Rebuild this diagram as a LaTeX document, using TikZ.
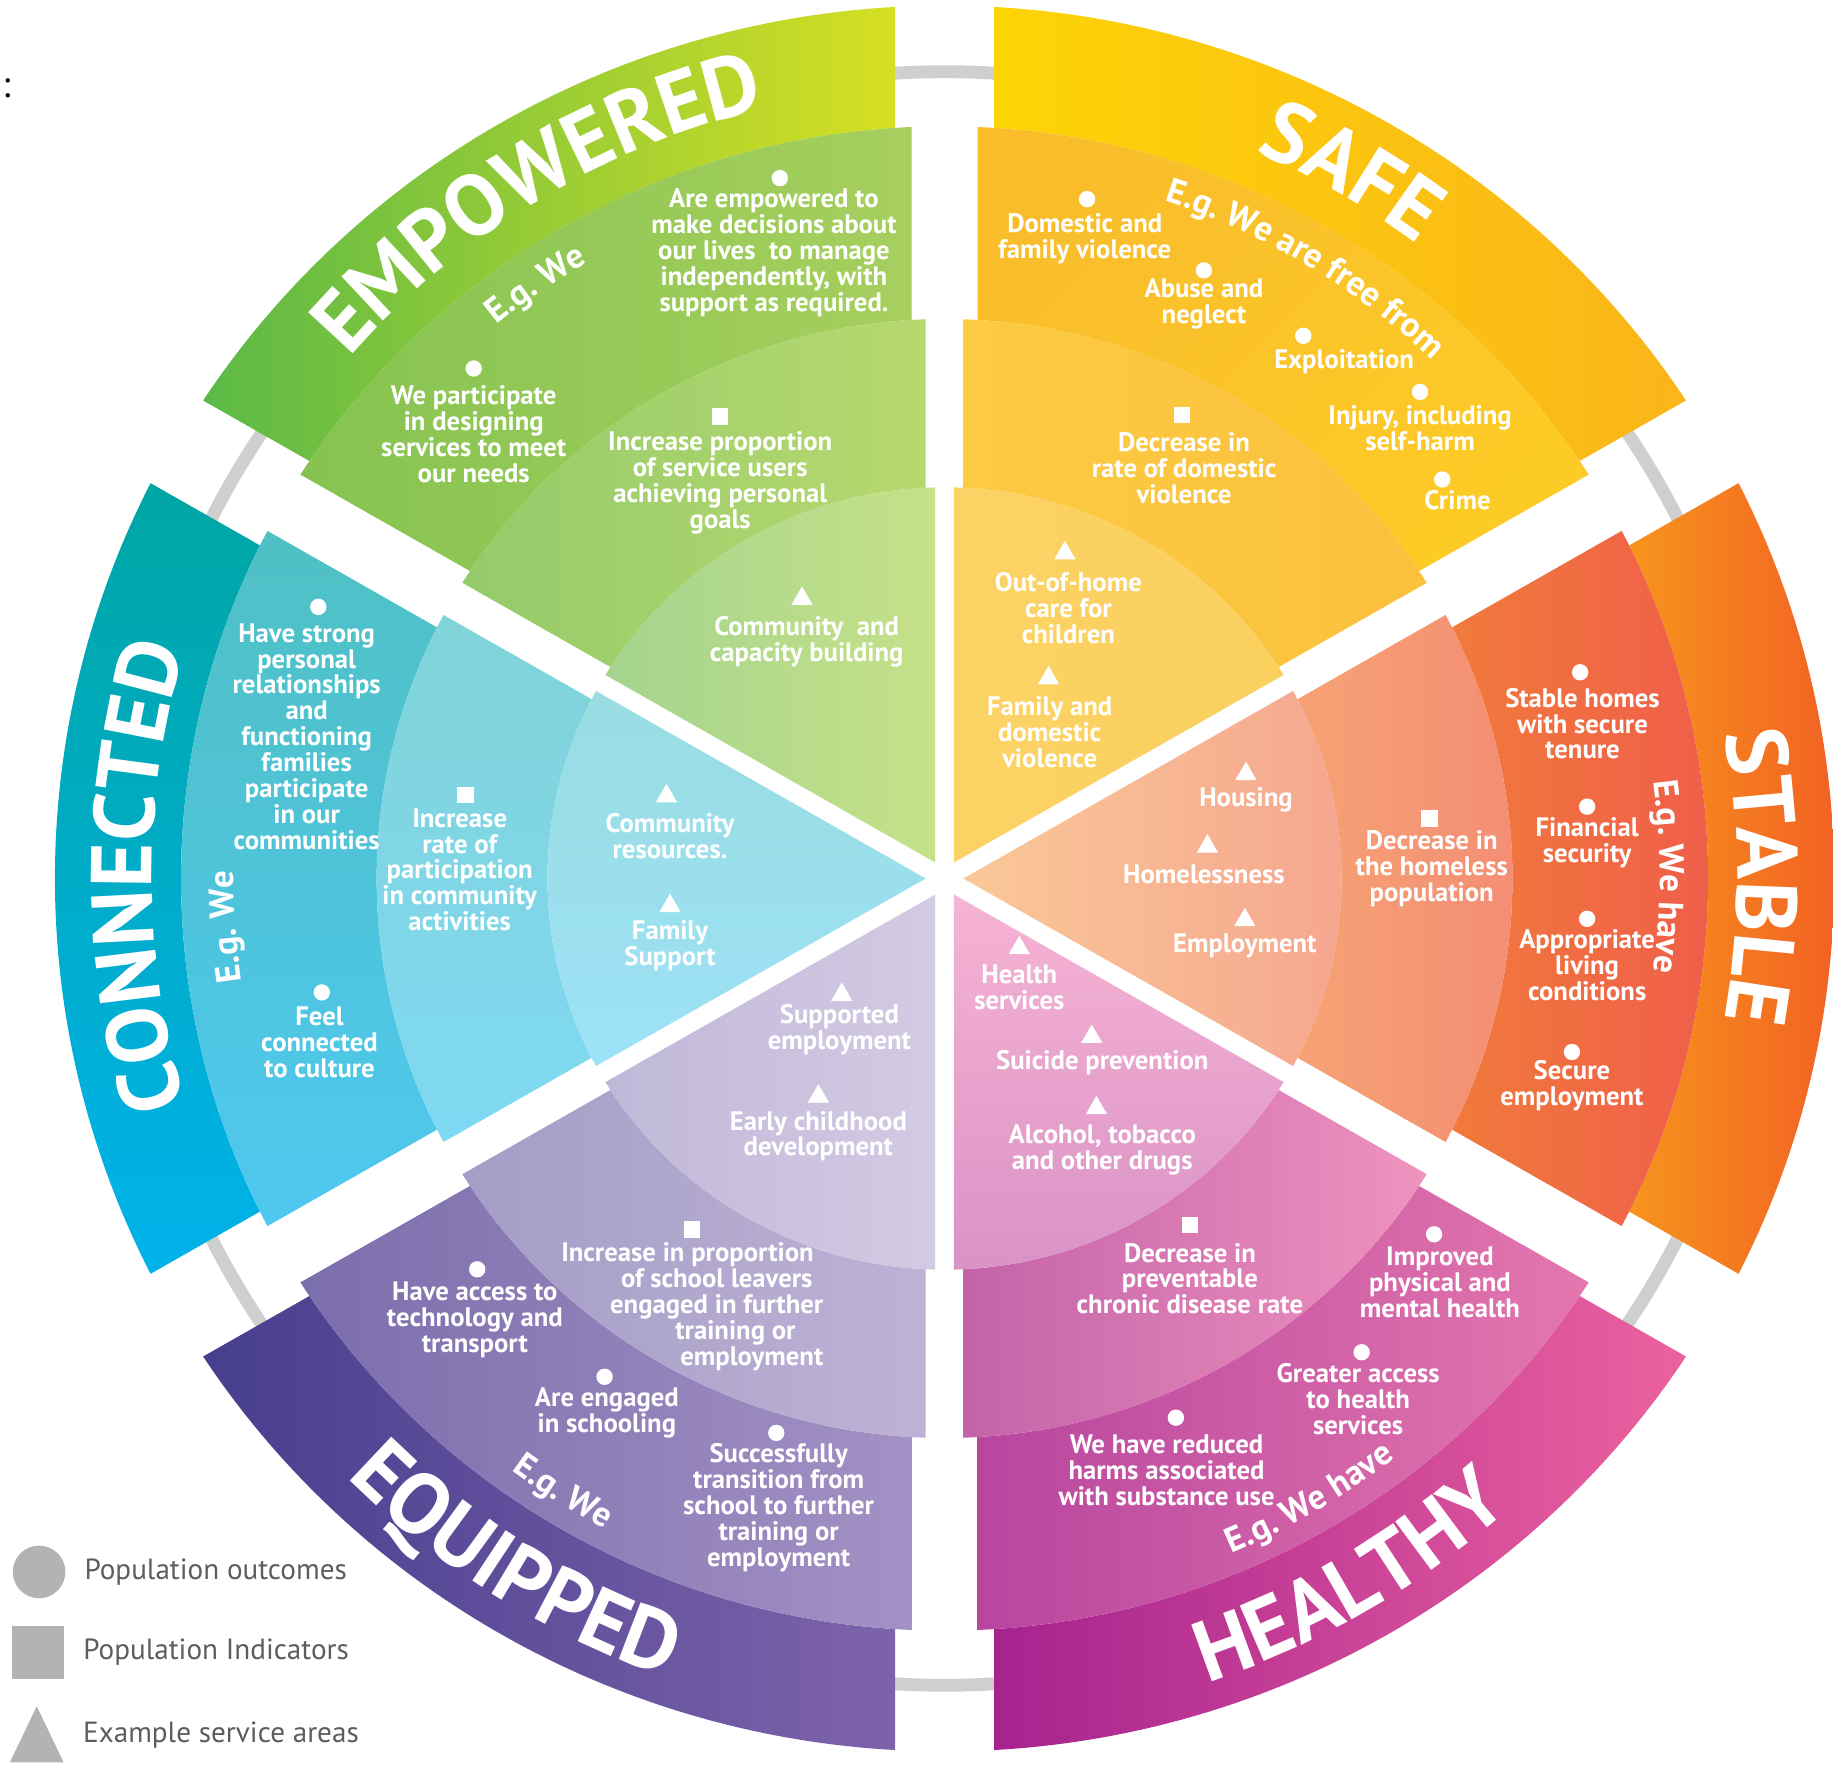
\documentclass[tikz,border=0pt]{standalone}
\usepackage{fontspec}
\setmainfont{PT Sans}
\usepackage{xcolor}
\usetikzlibrary{shapes.geometric,decorations.text,positioning}

\definecolor{ringgrey}{HTML}{CFCFCF}
\definecolor{keygrey}{HTML}{B3B3B3}
\definecolor{keytext}{HTML}{5D5D5D}
% empowered
\definecolor{empT1}{HTML}{5BB947}\definecolor{empT2}{HTML}{D7DF23}
\definecolor{empO1}{HTML}{85C350}\definecolor{empO2}{HTML}{A6CF5E}
\definecolor{empM1}{HTML}{94CB6A}\definecolor{empM2}{HTML}{B7D86F}
\definecolor{empI1}{HTML}{A3D48D}\definecolor{empI2}{HTML}{C6E188}
% safe
\definecolor{safT1}{HTML}{FDD406}\definecolor{safT2}{HTML}{FAB51A}
\definecolor{safO1}{HTML}{FDCB26}\definecolor{safO2}{HTML}{F9BD2C}
\definecolor{safM1}{HTML}{FCCB43}\definecolor{safM2}{HTML}{FBC03C}
\definecolor{safI1}{HTML}{FBD264}\definecolor{safI2}{HTML}{FAD15F}
% stable
\definecolor{stbT1}{HTML}{F7941D}\definecolor{stbT2}{HTML}{F15A24}
\definecolor{stbO1}{HTML}{F17A3C}\definecolor{stbO2}{HTML}{EF5B4B}
\definecolor{stbM1}{HTML}{F6A274}\definecolor{stbM2}{HTML}{F38C74}
\definecolor{stbI1}{HTML}{FAC898}\definecolor{stbI2}{HTML}{F5A58E}
% healthy
\definecolor{hltT1}{HTML}{A6238F}\definecolor{hltT2}{HTML}{EC629F}
\definecolor{hltO1}{HTML}{B8469F}\definecolor{hltO2}{HTML}{E477AE}
\definecolor{hltM1}{HTML}{C462A9}\definecolor{hltM2}{HTML}{EF93BF}
\definecolor{hltI1}{HTML}{F6B4D4}\definecolor{hltI2}{HTML}{D992C6}
% equipped
\definecolor{eqpT1}{HTML}{473E8E}\definecolor{eqpT2}{HTML}{7E63AB}
\definecolor{eqpO1}{HTML}{7B6EAC}\definecolor{eqpO2}{HTML}{A391C4}
\definecolor{eqpM1}{HTML}{A49DC6}\definecolor{eqpM2}{HTML}{BEB2D6}
\definecolor{eqpI1}{HTML}{C0B8D8}\definecolor{eqpI2}{HTML}{D3CAE3}
% connected
\definecolor{conT1}{HTML}{00A6A4}\definecolor{conT2}{HTML}{00B2EB}
\definecolor{conO1}{HTML}{4FC0C4}\definecolor{conO2}{HTML}{4EC8F0}
\definecolor{conM1}{HTML}{80D3D8}\definecolor{conM2}{HTML}{80D9F3}
\definecolor{conI1}{HTML}{99DCE2}\definecolor{conI2}{HTML}{9DE2F7}

\newcommand{\titlefont}{\color{white}\bfseries\fontsize{21}{21}\selectfont}
\newcommand{\egfont}{\color{white}\bfseries\fontsize{8.5}{8.5}\selectfont}
\newcommand{\lblfont}{\bfseries\fontsize{6.5}{6.3}\selectfont}
\newcommand{\keyfont}{\fontsize{7.1}{8}\selectfont}

% ring segment: from angle, to angle, inner r, outer r, half gap, style
\newcommand{\wheelband}[6]{%
  \pgfmathsetmacro{\wbG}{asin(#5/#4)}%
  \pgfmathsetmacro{\wbH}{asin(#5/#3)}%
  \pgfmathsetmacro{\wbA}{#1+\wbG}\pgfmathsetmacro{\wbB}{#2-\wbG}%
  \pgfmathsetmacro{\wbC}{#2-\wbH}\pgfmathsetmacro{\wbD}{#1+\wbH}%
  \path[#6] (\wbD:#3) -- (\wbA:#4) arc[start angle=\wbA, end angle=\wbB, radius=#4]
    -- (\wbC:#3) arc[start angle=\wbC, end angle=\wbD, radius=#3] -- cycle;
}
% inner slice: from angle, to angle, r, half gap, style
\newcommand{\wheelpie}[5]{%
  \pgfmathsetmacro{\wbG}{asin(#4/#3)}%
  \pgfmathsetmacro{\wbA}{#1+\wbG}\pgfmathsetmacro{\wbB}{#2-\wbG}%
  \pgfmathsetmacro{\wbM}{(#1+#2)/2}\pgfmathsetmacro{\wbR}{2*#4}%
  \path[#5] (\wbM:\wbR) -- (\wbA:#3) arc[start angle=\wbA, end angle=\wbB, radius=#3] -- cycle;
}

\begin{document}
\begin{tikzpicture}[
    dot/.style={circle, fill=white, inner sep=0pt, minimum size=0.14cm},
    sq/.style={rectangle, fill=white, inner sep=0pt, minimum size=0.14cm},
    tri/.style={regular polygon, regular polygon sides=3, fill=white, inner sep=0pt, minimum size=0.21cm},
    lbl/.style={text=white, align=center, font=\lblfont, inner sep=0pt},
    keytxt/.style={text=keytext, font=\keyfont, inner sep=0pt},
    curved/.style={decorate, decoration={text along path, text align={align=center}, text={#1}}}
  ]
  \fill[white] (-8.08,-7.63) rectangle (7.60,7.50);
  \useasboundingbox (-8.08,-7.63) rectangle (7.60,7.50);

  \begin{scope}[shift={(0,-0.015)}, xscale=1.008, yscale=0.993]
  \draw[ringgrey, line width=1.1mm] (0,0) circle[radius=6.95];

  % safe
  \wheelband{30}{90}{6.48}{7.52}{0.42}{left color=safT1, right color=safT2}
  \wheelband{30}{90}{4.82}{6.48}{0.28}{left color=safO2, right color=safO1, shading angle=45}
  \wheelband{30}{90}{3.37}{4.82}{0.16}{left color=safM1, right color=safM2}
  \wheelpie{30}{90}{3.37}{0.08}{left color=safI1, right color=safI2}
  % empowered
  \wheelband{90}{150}{6.48}{7.52}{0.42}{left color=empT1, right color=empT2}
  \wheelband{90}{150}{4.82}{6.48}{0.28}{left color=empO1, right color=empO2}
  \wheelband{90}{150}{3.37}{4.82}{0.16}{left color=empM1, right color=empM2}
  \wheelpie{90}{150}{3.37}{0.08}{left color=empI1, right color=empI2}
  % connected
  \wheelband{150}{210}{6.48}{7.55}{0.42}{top color=conT1, bottom color=conT2}
  \wheelband{150}{210}{4.82}{6.48}{0.28}{top color=conO1, bottom color=conO2}
  \wheelband{150}{210}{3.37}{4.82}{0.16}{top color=conM1, bottom color=conM2}
  \wheelpie{150}{210}{3.37}{0.08}{top color=conI1, bottom color=conI2}
  % equipped
  \wheelband{210}{270}{6.48}{7.52}{0.42}{left color=eqpT1, right color=eqpT2}
  \wheelband{210}{270}{4.82}{6.48}{0.28}{left color=eqpO1, right color=eqpO2}
  \wheelband{210}{270}{3.37}{4.82}{0.16}{left color=eqpM1, right color=eqpM2}
  \wheelpie{210}{270}{3.37}{0.08}{left color=eqpI1, right color=eqpI2}
  % healthy
  \wheelband{270}{330}{6.48}{7.52}{0.42}{left color=hltT1, right color=hltT2}
  \wheelband{270}{330}{4.82}{6.48}{0.28}{left color=hltO1, right color=hltO2}
  \wheelband{270}{330}{3.37}{4.82}{0.16}{left color=hltM1, right color=hltM2}
  \wheelpie{270}{330}{3.37}{0.08}{top color=hltI1, bottom color=hltI2}
  % stable
  \wheelband{-30}{30}{6.48}{7.55}{0.42}{left color=stbT1, right color=stbT2}
  \wheelband{-30}{30}{4.82}{6.48}{0.28}{left color=stbO1, right color=stbO2}
  \wheelband{-30}{30}{3.37}{4.82}{0.16}{left color=stbM1, right color=stbM2}
  \wheelpie{-30}{30}{3.37}{0.08}{left color=stbI1, right color=stbI2}
  \end{scope}

  % titles along the rim
  \path[curved={|\titlefont|EMPOWERED}] (150:6.75) arc[start angle=150, end angle=92, radius=6.75];
  \path[curved={|\titlefont|SAFE}] (88:6.75) arc[start angle=88, end angle=32, radius=6.75];
  \path[curved={|\titlefont|STABLE}] (28:6.78) arc[start angle=28, end angle=-28, radius=6.78];
  \path[curved={|\titlefont|CONNECTED}] (208:6.78) arc[start angle=208, end angle=152, radius=6.78];
  \path[curved={|\titlefont|HEALTHY}] (-88:7.25) arc[start angle=-88, end angle=-32, radius=7.25];
  \path[curved={|\titlefont|EQUIPPED}] (-150:7.25) arc[start angle=-150, end angle=-94, radius=7.25];

  \path[curved={|\egfont|E.g. We}] (150:6.08) arc[start angle=150, end angle=99.2, radius=6.08];
  \path[curved={|\egfont|E.g. We are free from}] (88:6.08) arc[start angle=88, end angle=30.6, radius=6.08];
  \path[curved={|\egfont|E.g. We have}] (28:6.12) arc[start angle=28, end angle=-28, radius=6.12];
  \path[curved={|\egfont|E.g. We}] (212:6.08) arc[start angle=212, end angle=156, radius=6.08];
  \path[curved={|\egfont|E.g. We have}] (-88:6.29) arc[start angle=-88, end angle=-31.2, radius=6.29];
  \path[curved={|\egfont|E.g. We}] (-148:6.29) arc[start angle=-148, end angle=-95.6, radius=6.29];

  \begin{scope}[x=0.01cm, y=-0.01cm, shift={(-808,-750)}]
    \node[font=\fontsize{9}{9}\selectfont] (colon) at (5,75) {:};

    % empowered
    \node[dot] (emp-o1) at (667,152) {};
    \node[lbl] (emp-o1-t) at (662,216) {Are empowered to\\make decisions about\\our lives\ \ to manage\\independently, with\\support as required.};
    \node[dot] (emp-o2) at (405,315) {};
    \node[lbl] (emp-o2-t) at (405,371) {We participate\\in designing\\services to meet\\our needs};
    \node[sq] (emp-m1) at (616,356) {};
    \node[lbl] (emp-m1-t) at (616,413) {Increase proportion\\of service users\\achieving personal\\goals};
    \node[tri] (emp-i1) at (686,512) {};
    \node[lbl] (emp-i1-t) at (690,549) {Community\ \ and\\capacity building};

    % safe
    \node[dot] (saf-o1) at (930,170) {};
    \node[lbl] (saf-o1-t) at (928,204) {Domestic and\\family violence};
    \node[dot] (saf-o2) at (1030,231) {};
    \node[lbl] (saf-o2-t) at (1030,260) {Abuse and\\neglect};
    \node[dot] (saf-o3) at (1115,287) {};
    \node[lbl] (saf-o3-t) at (1150,309) {Exploitation};
    \node[dot] (saf-o4) at (1215,335) {};
    \node[lbl] (saf-o4-t) at (1215,366) {Injury, including\\self-harm};
    \node[dot] (saf-o5) at (1234,410) {};
    \node[lbl] (saf-o5-t) at (1247,428) {Crime};
    \node[sq] (saf-m1) at (1011,355) {};
    \node[lbl] (saf-m1-t) at (1013,400) {Decrease in\\rate of domestic\\violence};
    \node[tri] (saf-i1) at (911,473) {};
    \node[lbl] (saf-i1-t) at (914,520) {Out-of-home\\care for\\children};
    \node[tri] (saf-i2) at (897,580) {};
    \node[lbl] (saf-i2-t) at (898,626) {Family and\\domestic\\violence};

    % stable
    \node[dot] (stb-o1) at (1352,575) {};
    \node[lbl] (stb-o1-t) at (1354,619) {Stable homes\\with secure\\tenure};
    \node[dot] (stb-o2) at (1358,690) {};
    \node[lbl] (stb-o2-t) at (1358,721) {Financial\\security};
    \node[dot] (stb-o3) at (1358,786) {};
    \node[lbl] (stb-o3-t) at (1358,826) {Appropriate\\living\\conditions};
    \node[dot] (stb-o4) at (1345,900) {};
    \node[lbl] (stb-o4-t) at (1345,929) {Secure\\employment};
    \node[sq] (stb-m1) at (1223,700) {};
    \node[lbl] (stb-m1-t) at (1225,743) {Decrease in\\the homeless\\population};
    \node[tri] (stb-i1) at (1066,662) {};
    \node[lbl] (stb-i1-t) at (1066,684) {Housing};
    \node[tri] (stb-i2) at (1033,724) {};
    \node[lbl] (stb-i2-t) at (1030,748) {Homelessness};
    \node[tri] (stb-i3) at (1065,787) {};
    \node[lbl] (stb-i3-t) at (1065,809) {Employment};

    % healthy
    \node[tri] (hlt-i1) at (872,811) {};
    \node[lbl] (hlt-i1-t) at (872,845) {Health\\services};
    \node[tri] (hlt-i2) at (934,887) {};
    \node[lbl] (hlt-i2-t) at (943,909) {Suicide prevention};
    \node[tri] (hlt-i3) at (938,948) {};
    \node[lbl] (hlt-i3-t) at (943,984) {Alcohol, tobacco\\and other drugs};
    \node[sq] (hlt-m1) at (1018,1048) {};
    \node[lbl] (hlt-m1-t) at (1018,1094) {Decrease in\\preventable\\chronic disease rate};
    \node[dot] (hlt-o1) at (1227,1056) {};
    \node[lbl] (hlt-o1-t) at (1232,1097) {Improved\\physical and\\mental health};
    \node[dot] (hlt-o2) at (1165,1157) {};
    \node[lbl] (hlt-o2-t) at (1162,1197) {Greater access\\to health\\services};
    \node[dot] (hlt-o3) at (1006,1213) {};
    \node[lbl] (hlt-o3-t) at (998,1258) {We have reduced\\harms associated\\with substance use};

    % equipped
    \node[tri] (eqp-i1) at (720,851) {};
    \node[lbl] (eqp-i1-t) at (718,881) {Supported\\employment};
    \node[tri] (eqp-i2) at (700,938) {};
    \node[lbl] (eqp-i2-t) at (700,972) {Early childhood\\development};
    \node[sq] (eqp-m1) at (592,1052) {};
    \node[lbl] (eqp-m1-t) at (613,1118) {Increase in proportion\hspace*{0.5cm}\\of school leavers\hspace*{0.26cm}\\engaged in further\\\hspace*{0.32cm}training or\\\hspace*{0.6cm}employment};
    \node[dot] (eqp-o1) at (408,1086) {};
    \node[lbl] (eqp-o1-t) at (406,1129) {Have access to\\technology and\\transport};
    \node[dot] (eqp-o2) at (517,1178) {};
    \node[lbl] (eqp-o2-t) at (519,1209) {Are engaged\\in schooling};
    \node[dot] (eqp-o3) at (664,1226) {};
    \node[lbl] (eqp-o3-t) at (666,1290) {Successfully\\transition from\\school to further\\training or\\employment};

    % connected
    \node[dot] (con-o1) at (272,519) {};
    \node[lbl] (con-o1-t) at (262,630) {Have strong\\personal\\relationships\\and\\functioning\\families\\participate\\in our\\communities};
    \node[dot] (con-o2) at (275,849) {};
    \node[lbl] (con-o2-t) at (273,892) {Feel\\connected\\to culture};
    \node[sq] (con-m1) at (398,680) {};
    \node[lbl] (con-m1-t) at (393,744) {Increase\\rate of\\participation\\in community\\activities};
    \node[tri] (con-i1) at (570,681) {};
    \node[lbl] (con-i1-t) at (573,715) {Community\\resources.};
    \node[tri] (con-i2) at (573,775) {};
    \node[lbl] (con-i2-t) at (573,809) {Family\\Support};

    % key
    \node[circle, fill=keygrey, inner sep=0pt, minimum size=0.45cm] (key-dot) at (33,1345) {};
    \node[keytxt, right=0.15cm of key-dot] (key-dot-t) {Population outcomes};
    \node[rectangle, fill=keygrey, inner sep=0pt, minimum size=0.45cm] (key-sq) at (32,1414) {};
    \node[keytxt, right=0.15cm of key-sq] (key-sq-t) {Population Indicators};
    \fill[keygrey] (8,1508) -- (31,1460) -- (54,1508) -- cycle;
    \node[keytxt, anchor=west] (key-tri-t) at (70,1485) {Example service areas};
  \end{scope}
\end{tikzpicture}
\end{document}
